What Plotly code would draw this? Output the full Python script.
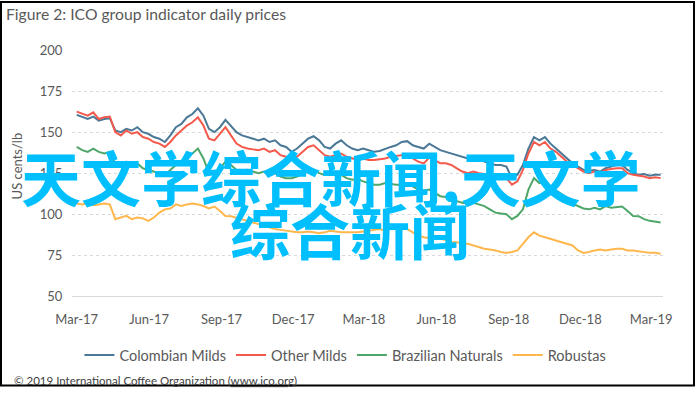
import pandas as pd
import plotly.graph_objects as go

start_date = "2017-03-01"

colombian_milds = [
    160.5, 159, 158, 159.5, 157, 158, 158.5, 151, 150, 152,
    151, 153, 150, 149, 147, 146, 144, 148, 153, 155,
    159, 161, 164.5, 160, 152, 150, 153, 157.5, 154, 150,
    148, 147, 146, 145, 146, 144, 145, 142, 141, 138,
    140, 143, 146, 147.5, 145, 141, 140, 143, 145, 142,
    140, 139, 140, 139, 138, 138.5, 140, 141, 142, 144,
    144.5, 142, 141, 140, 143, 141, 139, 138, 137, 136,
    135, 134, 135, 134, 132, 131, 130, 130, 129, 122,
    124, 130, 140, 147, 145, 147, 143, 140, 137, 134,
    131, 129, 127, 126.5, 127, 126, 128, 129, 130, 130,
    127, 125, 124, 124.5, 123.5, 124, 124,
]

other_milds = [
    162.5, 161, 160, 162, 158, 159, 159.5, 150, 148, 151,
    149, 150, 147, 146, 144, 143, 141, 144, 148, 151,
    154, 156, 159, 154, 146, 145, 149, 153, 148, 143,
    141, 140, 139.5, 139, 140, 138, 139, 136, 135, 133.5,
    135, 138, 141, 142, 139, 136, 135, 136, 137, 135,
    134, 133, 134, 133, 133, 133.5, 134, 135, 135.5, 136,
    136, 134, 132, 131, 134.5, 133, 131, 131, 130, 128,
    126, 125, 126, 125, 124.5, 124, 124, 124, 122, 118,
    120, 127, 137, 144, 142, 144, 140, 138, 135, 132,
    130, 128, 126, 125, 126, 125, 127, 127.5, 128, 128,
    125, 124, 123.5, 123, 122, 122.5, 122,
]

brazilian_naturals = [
    141, 139, 138, 140, 138, 137, 138, 131, 130, 132,
    130, 131, 128, 127, 126, 125, 124, 127, 130, 131,
    134, 137, 140, 134, 125, 124, 128, 132, 130, 127,
    126, 127, 126, 125, 126, 124, 125, 123, 122, 122,
    123, 125, 126, 127, 125, 124, 125, 126, 124, 122,
    121, 121.5, 120, 119, 118, 118, 119, 118.5, 118, 118,
    118, 117, 115, 114.5, 115, 113, 111, 110.5, 110, 108,
    107, 106.5, 107, 106, 105, 103, 101, 100.5, 100, 97,
    99, 103, 115, 122, 119, 120, 116, 114.5, 112, 110,
    106.5, 105, 103.5, 103, 104, 103, 105, 104, 104.5, 104.7,
    102, 99, 98.8, 97, 96, 95.5, 95,
]

robustas = [
    106.5, 106, 107, 105.5, 106, 106.5, 106, 97, 98, 99,
    97, 98, 97.5, 96, 98, 101, 103, 103.5, 106, 105,
    106, 106.5, 106, 105, 103.5, 104.7, 102, 99, 98.8, 98,
    97, 96, 95, 94, 93, 92, 91, 90.5, 90, 89.5,
    89, 89, 89.5, 89, 88.5, 89, 90, 89.5, 89, 89,
    89, 89, 89.5, 90, 90.5, 91, 90, 91, 91, 91,
    91, 89, 87, 86, 85.5, 85, 85.3, 84, 83, 83,
    82, 82, 81, 80, 79, 78.5, 78, 77, 76.5, 77,
    78, 82, 86, 89, 87, 86, 85, 84, 83, 82,
    81, 78, 76.5, 77, 78, 78.5, 78, 78.5, 79, 79,
    78, 78, 77.5, 77, 76.5, 76.5, 76,
]

series_names = ["Colombian Milds", "Other Milds", "Brazilian Naturals", "Robustas"]
series_values = [colombian_milds, other_milds, brazilian_naturals, robustas]
series_colors = ["#4a7896", "#f5594c", "#4ea769", "#ffb74d"]

y_ticks = [50, 75, 100, 125, 150, 175, 200]

dates = pd.date_range(start_date, periods=len(colombian_milds), freq="7D")

fig = go.Figure()
for name, vals, col in zip(series_names, series_values, series_colors):
    fig.add_trace(go.Scatter(x=dates, y=vals, mode="lines", name=name,
                             line=dict(color=col, width=2)))

W, H = 695, 394
L, R, T, B = 72, 32, 50, 92
pw, ph = W - L - R, H - T - B


def px(x):
    return (x - L) / pw


def py(y):
    return (H - B - y) / ph


font_main = "Lato, 'Liberation Sans', sans-serif"

fig.update_layout(
    width=W, height=H,
    margin=dict(l=L, r=R, t=T, b=B),
    paper_bgcolor="white", plot_bgcolor="white",
    font=dict(family=font_main, color="#595959", size=13),
    title=dict(text="Figure 2: ICO group indicator daily prices",
               x=6 / W, xanchor="left", xref="container",
               y=1 - 15 / H, yanchor="middle", yref="container",
               font=dict(size=15.7, color="#595959", family=font_main)),
    showlegend=True,
    legend=dict(orientation="h", xref="container", yref="container",
                x=0.497, xanchor="center", y=1 - 355 / H, yanchor="middle",
                font=dict(size=14.5, color="#595959"), itemwidth=30,
                bgcolor="rgba(0,0,0,0)"),
    xaxis=dict(range=["2017-02-23", "2019-03-16"], tickformat="%b-%y",
               dtick="M3", tick0="2017-03-01", showgrid=False,
               showline=True, linecolor="#d9d9d9", linewidth=1,
               ticks="outside", ticklen=11, tickcolor="rgba(0,0,0,0)",
               tickfont=dict(size=13, color="#595959"), zeroline=False),
    yaxis=dict(range=[50, 200], tickvals=y_ticks, showgrid=True,
               gridcolor="#d9d9d9", griddash="dot", gridwidth=1,
               showline=False, zeroline=False,
               ticks="outside", ticklen=6, tickcolor="rgba(0,0,0,0)",
               tickfont=dict(size=13, color="#595959")),
)

fig.add_annotation(text="US cents/lb", xref="paper", yref="paper",
                   x=px(17), y=py(168), textangle=-90, showarrow=False,
                   xanchor="center", yanchor="middle",
                   font=dict(size=13, color="#595959"))

fig.add_annotation(text="© 2019 International Coffee Organization "
                        "(<span style='text-decoration:underline'>www.ico.org</span>)",
                   xref="paper", yref="paper", x=px(12), y=py(388),
                   xanchor="left", yanchor="middle", showarrow=False,
                   font=dict(size=11.5, color="#404040"))

wm_font = dict(family="'Noto Sans CJK SC'", size=60, color="#00bfff", weight="bold")
fig.add_annotation(text="天文学综合新闻,天文学", xref="paper", yref="paper",
                   x=px(19), y=py(178.5), xanchor="left", yanchor="middle",
                   showarrow=False, font=wm_font)
fig.add_annotation(text="综合新闻", xref="paper", yref="paper",
                   x=px(350), y=py(233), xanchor="center", yanchor="middle",
                   showarrow=False, font=wm_font)

fig.add_shape(type="rect", xref="paper", yref="paper",
              x0=px(1), x1=px(694), y0=py(393), y1=py(1),
              line=dict(color="black", width=2), fillcolor="rgba(0,0,0,0)")

fig.write_html("out.html",
               config={"displayModeBar": False},
               post_script="document.body.style.margin='0';"
                           "document.body.style.padding='0';")
